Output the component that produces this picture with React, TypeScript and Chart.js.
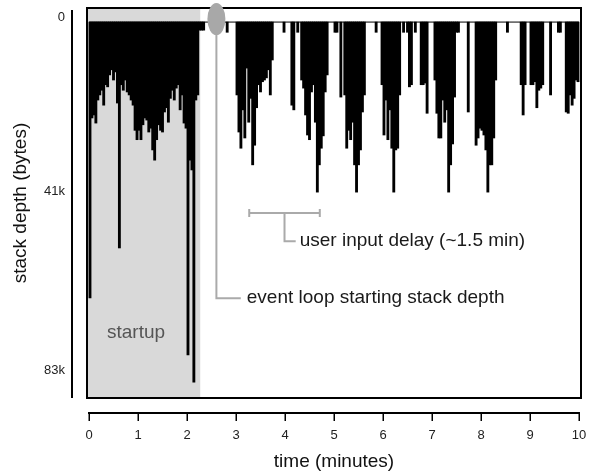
import React, { useEffect, useRef } from 'react';
import { Chart, registerables } from 'chart.js';

Chart.register(...registerables);

// ---- data (stack depth in k bytes, one value per 0.04-minute bin) ----
const BASE_DEPTH = 1.2; // event loop starting stack depth
const BIN_MINUTES = 0.04;
const MINUTE_STARTS = [0, 1, 2, 3, 4, 5, 6, 7, 8, 9];

const depthMinute0 = [65.9, 23.7, 23.0, 24.9, 19.5, 18.3, 17.2, 20.7, 15.9, 16.4, 13.6, 12.4, 14.8, 12.9, 20.2, 54.2, 15.9, 17.2, 14.8, 17.6, 18.3, 19.5, 20.7, 26.6, 28.8];
const depthMinute1 = [26.6, 28.8, 25.3, 23.7, 24.2, 27.0, 26.1, 31.2, 33.6, 28.8, 25.3, 26.6, 27.0, 22.3, 21.3, 24.7, 19.1, 17.2, 19.5, 16.7, 15.9, 21.8, 18.3, 24.9, 26.1];
const depthMinute2 = [79.3, 33.6, 35.9, 85.7, 19.5, 18.3, 3.1, 3.1, 3.1, 1.2, 1.2, 1.2, 1.2, 1.2, 1.2, 1.2, 1.2, 1.2, 1.2, 1.2, 3.6, 1.2, 1.2, 1.2, 1.2];
const depthMinute3 = [18.3, 27.0, 30.8, 21.8, 28.4, 12.0, 24.7, 19.1, 34.7, 30.1, 21.3, 15.9, 17.6, 15.2, 14.8, 14.3, 12.4, 18.3, 10.1, 1.2, 1.2, 1.2, 1.2, 1.2, 3.6];
const depthMinute4 = [1.2, 1.2, 1.2, 20.7, 21.8, 1.2, 3.6, 1.2, 14.8, 16.7, 23.0, 27.7, 28.8, 17.6, 15.9, 24.7, 41.1, 34.7, 30.8, 27.9, 17.6, 13.6, 1.2, 1.2, 1.2];
const depthMinute5 = [3.6, 3.6, 1.2, 18.8, 1.2, 18.3, 30.8, 26.6, 28.8, 24.7, 34.7, 41.1, 34.7, 31.2, 22.3, 18.3, 1.2, 1.2, 1.2, 1.2, 1.2, 3.6, 1.2, 1.2, 15.9];
const depthMinute6 = [27.7, 19.5, 28.8, 21.8, 30.8, 41.1, 31.2, 30.8, 18.3, 1.2, 3.6, 1.2, 3.6, 16.4, 15.9, 1.2, 3.6, 1.2, 1.2, 15.9, 15.9, 15.5, 22.6, 1.2, 1.2];
const depthMinute7 = [1.2, 14.8, 22.6, 28.4, 28.4, 19.5, 24.7, 21.8, 41.1, 34.7, 29.8, 18.8, 3.6, 3.6, 1.2, 1.2, 1.2, 1.2, 22.3, 1.2, 1.2, 1.2, 30.1, 28.4, 26.1];
const depthMinute8 = [26.6, 27.7, 31.2, 41.1, 34.7, 34.7, 28.4, 14.8, 1.2, 1.2, 1.2, 1.2, 1.2, 3.6, 1.2, 1.2, 1.2, 1.2, 1.2, 1.2, 15.9, 23.0, 15.9, 1.2, 1.2];
const depthMinute9 = [15.9, 15.9, 15.2, 21.3, 17.2, 16.7, 15.9, 1.2, 1.2, 1.2, 18.3, 1.2, 1.2, 1.2, 3.6, 3.6, 1.2, 1.2, 22.3, 22.6, 18.3, 20.7, 19.1, 14.8, 15.2];

const DEPTH_BY_MINUTE = [depthMinute0, depthMinute1, depthMinute2, depthMinute3, depthMinute4, depthMinute5, depthMinute6, depthMinute7, depthMinute8, depthMinute9];

const TIME_TICKS = [0, 1, 2, 3, 4, 5, 6, 7, 8, 9, 10];
const DEPTH_TICKS = [0, 41, 83];
const TIME_RANGE = [-0.041, 10.041];
const DEPTH_RANGE = [-2.1, 89.4];

const STARTUP_END = 2.27;
const STARTUP_LABEL = [0.96, 74.2];
const EVENT_LOOP_MARK = 2.6;
const EVENT_LOOP_LABEL = [3.22, 66.0];
const INPUT_DELAY = [3.27, 4.71];
const INPUT_DELAY_LEVEL = 46.0;
const INPUT_DELAY_LABEL = [4.3, 52.6];

const FONT = '"Liberation Sans", Arial, Helvetica, sans-serif';

const decorPlugin = {
  id: 'decor',
  beforeDatasetsDraw(chart: any) {
    const { ctx, chartArea: a, scales } = chart;
    const x = scales.x, y = scales.y;
    ctx.save();
    ctx.fillStyle = '#d9d9d9';
    ctx.fillRect(a.left, a.top, x.getPixelForValue(STARTUP_END) - a.left, a.bottom - a.top);
    ctx.fillStyle = '#555';
    ctx.font = `19px ${FONT}`;
    ctx.textAlign = 'center';
    ctx.textBaseline = 'middle';
    ctx.fillText('startup', x.getPixelForValue(STARTUP_LABEL[0]), y.getPixelForValue(STARTUP_LABEL[1]));
    ctx.restore();
  },
  afterDraw(chart: any) {
    const { ctx, chartArea: a, scales } = chart;
    const x = scales.x, y = scales.y;
    ctx.save();
    // plot box
    ctx.strokeStyle = '#000';
    ctx.lineWidth = 2;
    ctx.strokeRect(a.left, a.top, a.right - a.left, a.bottom - a.top);
    // detached y axis line
    const yAxisX = a.left - 15;
    ctx.beginPath();
    ctx.moveTo(yAxisX, a.top + 2);
    ctx.lineTo(yAxisX, a.bottom);
    ctx.stroke();
    // detached x axis line with tick marks
    const xAxisY = a.bottom + 15;
    ctx.beginPath();
    ctx.moveTo(x.getPixelForValue(TIME_TICKS[0]) - 1, xAxisY);
    ctx.lineTo(x.getPixelForValue(TIME_TICKS[TIME_TICKS.length - 1]) + 1, xAxisY);
    ctx.stroke();
    ctx.lineWidth = 1.5;
    TIME_TICKS.forEach((t) => {
      const px = Math.round(x.getPixelForValue(t)) + 0.25;
      ctx.beginPath();
      ctx.moveTo(px, xAxisY);
      ctx.lineTo(px, xAxisY + 8);
      ctx.stroke();
    });

    // annotations
    ctx.strokeStyle = '#aaaaaa';
    ctx.lineWidth = 2;
    const mx = x.getPixelForValue(EVENT_LOOP_MARK);
    const my = y.getPixelForValue(BASE_DEPTH) - 3;
    const evY = y.getPixelForValue(EVENT_LOOP_LABEL[1]);
    ctx.beginPath();
    ctx.moveTo(mx, my + 14);
    ctx.lineTo(mx, evY);
    ctx.lineTo(x.getPixelForValue(EVENT_LOOP_LABEL[0]) - 6, evY);
    ctx.stroke();

    const b0 = x.getPixelForValue(INPUT_DELAY[0]);
    const b1 = x.getPixelForValue(INPUT_DELAY[1]);
    const by = y.getPixelForValue(INPUT_DELAY_LEVEL);
    const bm = (b0 + b1) / 2;
    const uy = y.getPixelForValue(INPUT_DELAY_LABEL[1]);
    ctx.beginPath();
    ctx.moveTo(b0, by - 4); ctx.lineTo(b0, by + 4);
    ctx.moveTo(b1, by - 4); ctx.lineTo(b1, by + 4);
    ctx.moveTo(b0, by); ctx.lineTo(b1, by);
    ctx.moveTo(bm, by); ctx.lineTo(bm, uy);
    ctx.lineTo(x.getPixelForValue(INPUT_DELAY_LABEL[0]) - 4, uy);
    ctx.stroke();

    ctx.fillStyle = '#a8a8a8';
    ctx.beginPath();
    ctx.ellipse(mx, my, 9, 16, 0, 0, Math.PI * 2);
    ctx.fill();

    ctx.fillStyle = '#1a1a1a';
    ctx.font = `19px ${FONT}`;
    ctx.textAlign = 'left';
    ctx.textBaseline = 'middle';
    ctx.fillText('event loop starting stack depth', x.getPixelForValue(EVENT_LOOP_LABEL[0]), evY);
    ctx.fillText('user input delay (~1.5 min)', x.getPixelForValue(INPUT_DELAY_LABEL[0]), uy);
    ctx.restore();
  },
};

export default function App() {
  const ref = useRef<HTMLCanvasElement | null>(null);
  useEffect(() => {
    if (!ref.current) return;
    const spikes = DEPTH_BY_MINUTE.flatMap((arr, m) =>
      arr.map((d, i) => ({ x: MINUTE_STARTS[m] + (i + 0.5) * BIN_MINUTES, y: [BASE_DEPTH, d] }))
    ).filter((p) => p.y[1] > BASE_DEPTH);

    const chart = new Chart(ref.current, {
      type: 'bar',
      data: {
        datasets: [
          {
            type: 'bar',
            data: spikes as any,
            backgroundColor: '#000',
            borderWidth: 0,
            barThickness: 2.2,
            grouped: false,
          } as any,
          {
            type: 'line',
            data: [{ x: TIME_TICKS[0], y: BASE_DEPTH }, { x: TIME_TICKS[TIME_TICKS.length - 1], y: BASE_DEPTH }],
            borderColor: '#000',
            borderWidth: 1,
            pointRadius: 0,
          } as any,
        ],
      },
      options: {
        animation: false,
        responsive: false,
        layout: { padding: { top: 8, right: 15, bottom: 0, left: 0 } },
        plugins: { legend: { display: false }, tooltip: { enabled: false } },
        scales: {
          x: {
            type: 'linear',
            offset: false,
            min: TIME_RANGE[0],
            max: TIME_RANGE[1],
            grid: { display: false, drawTicks: true, tickLength: 30 },
            border: { display: false },
            ticks: { padding: 0, color: '#222', font: { family: FONT, size: 13 }, autoSkip: false, maxRotation: 0 },
            afterBuildTicks: (s: any) => { s.ticks = TIME_TICKS.map((v) => ({ value: v })); },
            afterFit: (s: any) => { s.height = 74; },
            title: { display: true, text: 'time (minutes)', color: '#111', font: { family: FONT, size: 19, lineHeight: 1 }, padding: { top: 0, bottom: 1 } },
          },
          y: {
            type: 'linear',
            reverse: true,
            min: DEPTH_RANGE[0],
            max: DEPTH_RANGE[1],
            grid: { display: false, drawTicks: true, tickLength: 22 },
            border: { display: false },
            ticks: { padding: 0, color: '#222', font: { family: FONT, size: 13 }, callback: (v: any) => (v === 0 ? '0' : `${v}k`) },
            afterBuildTicks: (s: any) => { s.ticks = DEPTH_TICKS.map((v) => ({ value: v })); },
            afterFit: (s: any) => { s.width = 87; },
            title: { display: true, text: 'stack depth (bytes)', color: '#111', font: { family: FONT, size: 19, lineHeight: 1 }, padding: { top: 11, bottom: 0 } },
          },
        },
      } as any,
      plugins: [decorPlugin],
    });
    return () => chart.destroy();
  }, []);

  return (
    <div style={{ position: 'absolute', left: 0, top: 0, width: 596, height: 472, background: '#fff' }}>
      <canvas ref={ref} width={596} height={472} style={{ display: 'block' }} />
    </div>
  );
}
